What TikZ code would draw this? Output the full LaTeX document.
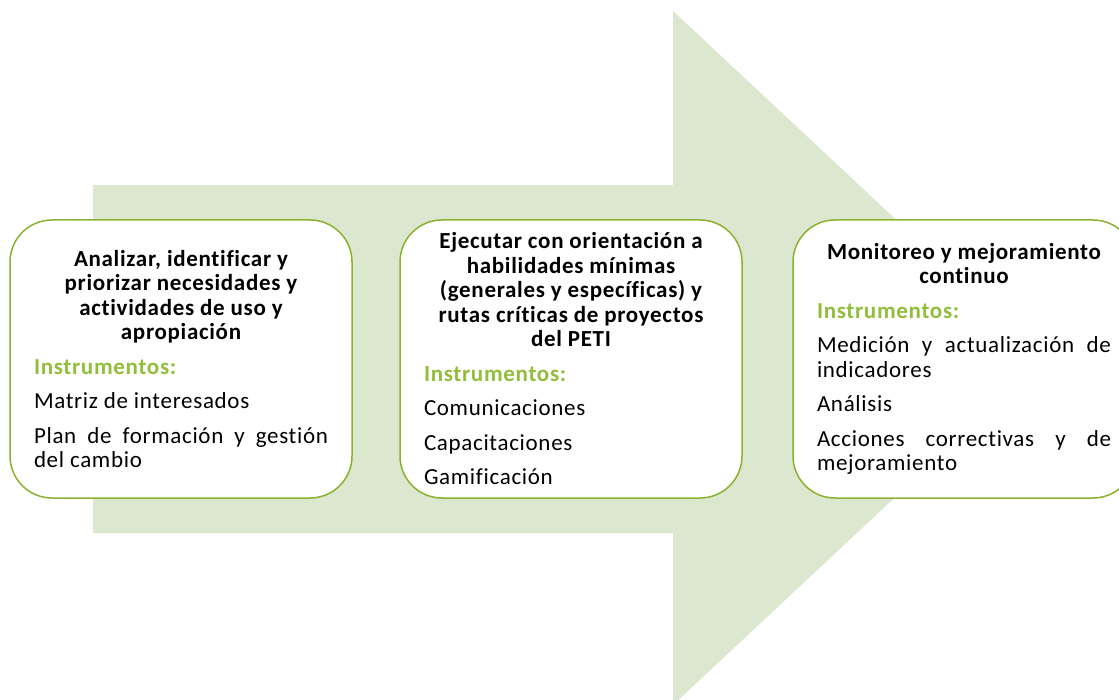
\documentclass[tikz,border=0pt]{standalone}
\usepackage{fontspec}
\setmainfont{Carlito}[LetterSpace=3, Ligatures=NoCommon]
\usepackage{tikz}
\definecolor{arrowgreen}{RGB}{219,231,206}
\definecolor{boxgreen}{RGB}{139,178,47}
\definecolor{instgreen}{RGB}{146,190,60}

\begin{document}
\begin{tikzpicture}[x=1pt, y=-1pt,
  stage/.style={draw=boxgreen, line width=1.5pt, fill=white, rounded corners=42pt,
    minimum width=342pt, minimum height=278pt, text width=294pt, inner sep=0pt,
    align=justify, font=\fontsize{23}{24.5}\selectfont,
    execute at begin node={\setlength{\parskip}{10pt}\hyphenpenalty=10000\exhyphenpenalty=10000}}]
  \clip (0,0) rectangle (1119,700);

  % big arrow in the background
  \fill [arrowgreen] (93,185) -- (673,185) -- (673,11) -- (1044,358)
    -- (673,705) -- (673,533) -- (93,533) -- cycle;

  \node (s1) [stage] at (181,359) {%
    {\centering\bfseries Analizar, identificar y\\ priorizar necesidades y\\
      actividades de uso y\\ apropiación\par}
    {\color{instgreen}\bfseries Instrumentos:}\par
    Matriz de interesados\par
    Plan de formación y gestión del cambio};
  \node (s2) [stage] at (571,359) {%
    {\centering\bfseries Ejecutar con orientación a\\ habilidades mínimas\\
      (generales y específicas) y\\ rutas críticas de proyectos\\ del PETI\par}
    {\color{instgreen}\bfseries Instrumentos:}\par
    Comunicaciones\par
    Capacitaciones\par
    Gamificación};
  \node (s3) [stage] at (964,359) {%
    {\centering\bfseries Monitoreo y mejoramiento\\ continuo\par}
    {\color{instgreen}\bfseries Instrumentos:}\par
    Medición y actualización de indicadores\par
    Análisis\par
    Acciones correctivas y de mejoramiento};
\end{tikzpicture}
\end{document}
